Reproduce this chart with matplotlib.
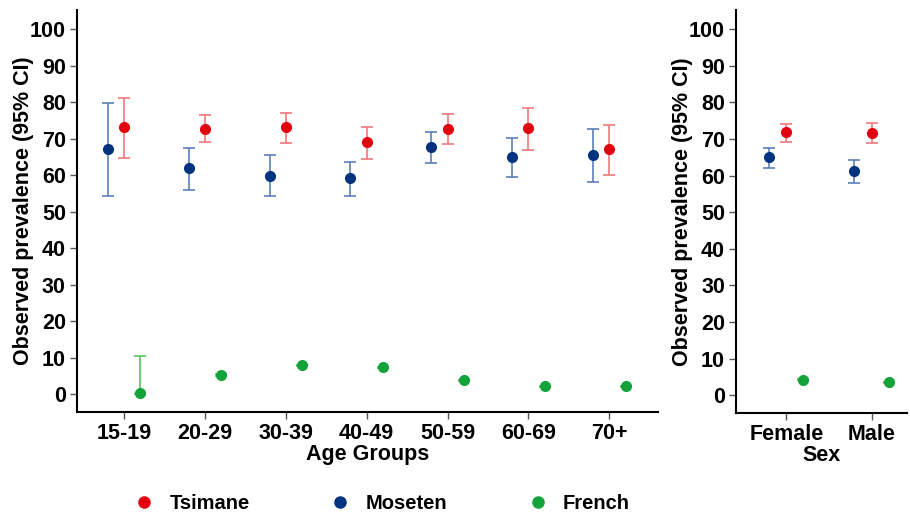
import numpy as np
import matplotlib.pyplot as plt
from matplotlib.lines import Line2D

plt.rcParams['font.family'] = ['Liberation Sans', 'DejaVu Sans']
plt.rcParams['font.weight'] = 'bold'
plt.rcParams['axes.labelweight'] = 'bold'

age_groups = ['15-19', '20-29', '30-39', '40-49', '50-59', '60-69', '70+']
sexes = ['Female', 'Male']

# prevalence and 95% CI by age group
tsimane_age = [73.1, 72.6, 73.2, 69.1, 72.6, 72.9, 67.1]
tsimane_age_lo = [64.6, 69.0, 68.8, 64.4, 68.4, 66.9, 60.1]
tsimane_age_hi = [81.2, 76.4, 77.1, 73.3, 76.8, 78.3, 73.8]

moseten_age = [67.1, 62.0, 59.8, 59.1, 67.7, 65.1, 65.4]
moseten_age_lo = [54.2, 56.0, 54.2, 54.2, 63.4, 59.5, 58.0]
moseten_age_hi = [79.7, 67.5, 65.4, 63.6, 71.8, 70.3, 72.7]

french_age = [0.2, 5.3, 7.9, 7.3, 3.8, 2.1, 2.1]
french_age_lo = [0.0, 5.1, 7.7, 7.1, 3.6, 1.9, 1.9]
french_age_hi = [10.4, 5.5, 8.1, 7.5, 4.0, 2.3, 2.3]

# prevalence and 95% CI by sex
tsimane_sex = [71.8, 71.6]
tsimane_sex_lo = [69.2, 68.9]
tsimane_sex_hi = [74.0, 74.3]

moseten_sex = [65.0, 61.2]
moseten_sex_lo = [62.1, 57.9]
moseten_sex_hi = [67.6, 64.3]

french_sex = [4.2, 3.5]
french_sex_lo = [4.0, 3.3]
french_sex_hi = [4.4, 3.7]

red = '#e3000f'
red_bar = '#f2787c'
blue = '#00337f'
blue_bar = '#5b80b8'
green = '#13a33a'
green_bar = '#5cc160'


def draw_group(ax, x, val, lo, hi, col, bar_col):
    val = np.array(val)
    err = [val - np.array(lo), np.array(hi) - val]
    ax.errorbar(x, val, yerr=err, fmt='none', ecolor=bar_col,
                elinewidth=1.2, capsize=4.5, capthick=1.2, zorder=2)
    ax.plot(x, val, 'o', color=col, ms=7, mec=col, zorder=3)


def style_axis(ax, xlabels, xlabel):
    ax.set_ylim(-4.9, 105.3)
    ax.set_yticks(np.arange(0, 101, 10))
    ax.set_xticks(np.arange(len(xlabels)))
    ax.set_xticklabels(xlabels)
    ax.set_xlabel(xlabel, fontsize=15.5, labelpad=0)
    ax.set_ylabel('Observed prevalence (95% CI)', fontsize=15.5, labelpad=-3)
    ax.spines['top'].set_visible(False)
    ax.spines['right'].set_visible(False)
    for s in ['left', 'bottom']:
        ax.spines[s].set_linewidth(1.5)
    ax.tick_params(axis='both', labelsize=15.5, length=5, width=1, color='#555555', pad=3)


fig = plt.figure(figsize=(9.1, 5.15), dpi=100)
ax1 = fig.add_axes([0.0846, 0.2, 0.6384, 0.781])
ax2 = fig.add_axes([0.809, 0.198, 0.188, 0.783])

off = 0.2
xa = np.arange(len(age_groups))
draw_group(ax1, xa - off, moseten_age, moseten_age_lo, moseten_age_hi, blue, blue_bar)
draw_group(ax1, xa, tsimane_age, tsimane_age_lo, tsimane_age_hi, red, red_bar)
draw_group(ax1, xa + off, french_age, french_age_lo, french_age_hi, green, green_bar)
ax1.set_xlim(-0.58, 6.6)
style_axis(ax1, age_groups, 'Age Groups')

xs = np.arange(len(sexes))
draw_group(ax2, xs - off, moseten_sex, moseten_sex_lo, moseten_sex_hi, blue, blue_bar)
draw_group(ax2, xs, tsimane_sex, tsimane_sex_lo, tsimane_sex_hi, red, red_bar)
draw_group(ax2, xs + off, french_sex, french_sex_lo, french_sex_hi, green, green_bar)
ax2.set_xlim(-0.59, 1.42)
style_axis(ax2, sexes, 'Sex')

handles = [Line2D([], [], ls='none', marker='o', color=c, ms=8)
           for c in [red, blue, green]]
fig.legend(handles, ['Tsimane', 'Moseten', 'French'], loc='center',
           bbox_to_anchor=(0.42, 0.023), ncol=3, frameon=False,
           fontsize=14.5, handlelength=1.0, handletextpad=0.75, columnspacing=4.0)

fig.savefig('out.png', dpi=100)
